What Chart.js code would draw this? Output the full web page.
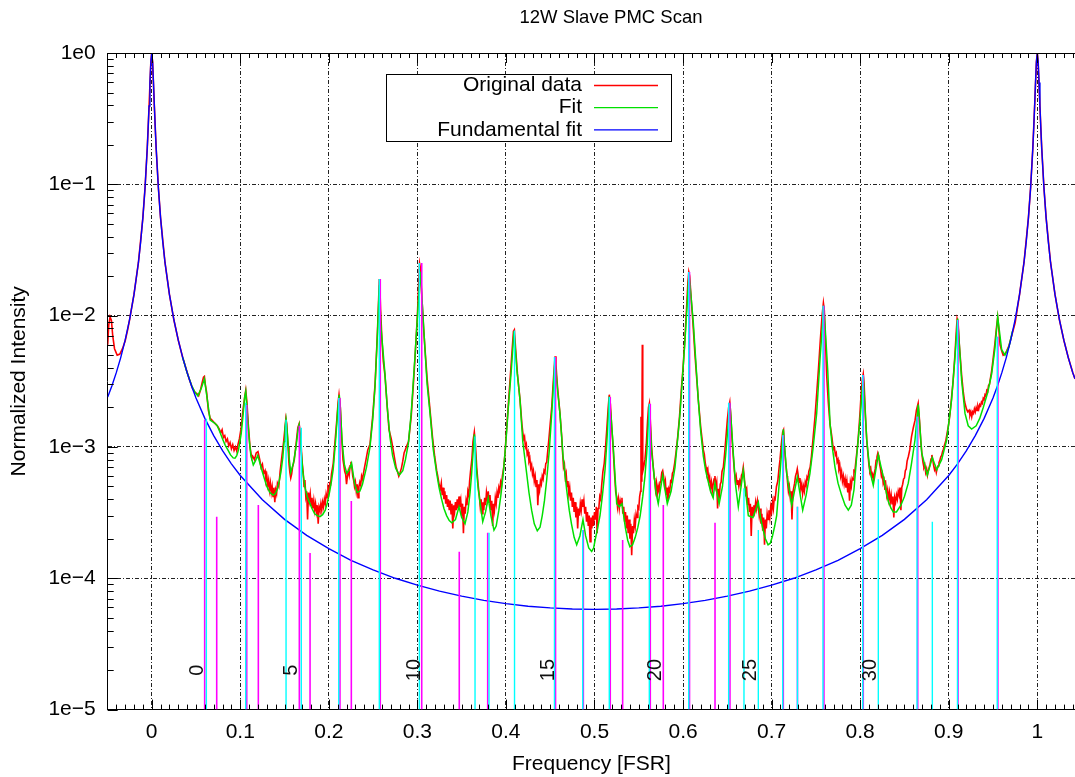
<!DOCTYPE html>
<html>
<head>
<meta charset="utf-8">
<title>12W Slave PMC Scan</title>
<script src="https://cdn.jsdelivr.net/npm/chart.js@4.4.1/dist/chart.umd.min.js"></script>
<style>
  html, body { margin: 0; padding: 0; background: #fff; }
  #wrap { width: 1075px; height: 777px; position: relative; }
</style>
</head>
<body>
<div id="wrap"><canvas id="pmcScan"></canvas></div>
<script>
// Axis ticks
const xTickValues = [0, 0.1, 0.2, 0.3, 0.4, 0.5, 0.6, 0.7, 0.8, 0.9, 1];
const xTickLabels = ['0', '0.1', '0.2', '0.3', '0.4', '0.5', '0.6', '0.7', '0.8', '0.9', '1'];
const yTickValues = [1e-5, 1e-4, 1e-3, 1e-2, 1e-1, 1];
const yTickLabels = ['1e\u22125', '1e\u22124', '1e\u22123', '1e\u22122', '1e\u22121', '1e0'];

// Measured transmission (frequency in FSR, normalized intensity)
const originalData = [
  [-0.0497,6.0e-3],[-0.0485,8.5e-3],[-0.047,9.8e-3],[-0.0455,9.2e-3],[-0.044,7.0e-3],[-0.042,5.6e-3],
  [-0.039,5.0e-3],[-0.036,5.1e-3],[-0.033,5.6e-3],[-0.030,6.4e-3],[-0.027,7.9e-3],[-0.025,9.3e-3],
  [-0.02,1.45e-2],[-0.015,2.54e-2],[-0.01,5.55e-2],[-0.0075,9.5e-2],[-0.005,0.19],[-0.003,0.39],
  [-0.001,0.85],[0,1.0],[0.001,0.85],[0.003,0.39],[0.005,0.19],[0.0075,9.5e-2],[0.01,5.55e-2],
  [0.015,2.54e-2],[0.02,1.45e-2],[0.025,9.3e-3],[0.03,6.5e-3],[0.035,4.8e-3],[0.040,3.7e-3],
  [0.043,3.2e-3],[0.046,2.8e-3],[0.049,2.6e-3],[0.051,2.55e-3],[0.053,2.45e-3],[0.055,2.7e-3],
  [0.057,3.1e-3],[0.0585,3.4e-3],[0.0595,3.45e-3],[0.0605,3.0e-3],
  [0.062,2.6e-3],[0.064,1.9e-3],[0.066,1.65e-3],[0.068,1.6e-3],[0.070,1.55e-3],[0.072,1.5e-3],
  [0.074,1.45e-3],[0.076,1.38e-3],[0.078,1.28e-3],[0.0795,1.35e-3],[0.081,1.18e-3],[0.0825,1.22e-3],
  [0.084,1.10e-3],[0.0855,1.15e-3],[0.087,1.02e-3],[0.0885,1.08e-3],[0.090,9.7e-4],[0.0915,1.04e-3],
  [0.093,9.4e-4],[0.0945,1.0e-3],[0.096,9.3e-4],[0.0975,1.05e-3],[0.099,1.15e-3],[0.101,1.4e-3],
  [0.103,1.9e-3],[0.105,2.4e-3],[0.1062,2.7e-3],[0.1075,2.2e-3],[0.109,1.5e-3],[0.111,1.0e-3],
  [0.113,8.2e-4],[0.114,8.5e-4],[0.116,8.0e-4],[0.118,9.0e-4],[0.120,9.2e-4],[0.122,8.0e-4],
  [0.1235,7.0e-4],[0.125,7.4e-4],[0.1265,6.3e-4],[0.128,6.6e-4],[0.129,5.6e-4],[0.130,6.0e-4],
  [0.131,5.1e-4],[0.132,5.6e-4],[0.133,4.7e-4],[0.134,5.3e-4],[0.135,4.5e-4],[0.136,5.0e-4],
  [0.137,4.2e-4],[0.138,4.9e-4],[0.139,3.8e-4],[0.140,4.7e-4],[0.141,4.4e-4],[0.142,5.3e-4],
  [0.1435,5.0e-4],[0.145,6.5e-4],[0.147,8.5e-4],[0.149,1.1e-3],[0.1505,1.4e-3],[0.1515,1.65e-3],
  [0.1525,1.5e-3],[0.154,1.0e-3],[0.155,7.5e-4],[0.156,6.4e-4],[0.157,5.8e-4],[0.158,6.2e-4],
  [0.159,7.0e-4],[0.161,8.0e-4],[0.163,1.05e-3],[0.165,1.4e-3],[0.1665,1.5e-3],[0.168,1.2e-3],
  [0.170,7.5e-4],[0.171,6.5e-4],[0.172,5.0e-4],[0.173,5.6e-4],[0.174,4.2e-4],[0.175,4.6e-4],
  [0.176,2.8e-4],[0.177,4.5e-4],[0.178,3.9e-4],[0.179,4.4e-4],[0.180,3.6e-4],[0.181,4.1e-4],
  [0.182,3.4e-4],[0.183,3.9e-4],[0.184,3.3e-4],[0.185,3.7e-4],[0.186,3.2e-4],[0.187,3.6e-4],
  [0.188,2.6e-4],[0.189,3.5e-4],[0.190,3.3e-4],[0.191,3.7e-4],[0.192,3.3e-4],[0.193,3.8e-4],
  [0.194,3.5e-4],[0.195,4.0e-4],[0.196,3.7e-4],[0.197,4.4e-4],[0.198,4.1e-4],[0.199,4.8e-4],
  [0.200,4.5e-4],[0.201,5.3e-4],[0.202,5.2e-4],[0.203,6.2e-4],[0.205,7.5e-4],[0.207,1.1e-3],
  [0.209,1.6e-3],[0.2105,2.2e-3],[0.2115,2.5e-3],[0.213,2.0e-3],[0.2145,1.2e-3],[0.216,8.0e-4],
  [0.218,6.5e-4],[0.219,6.2e-4],[0.220,5.2e-4],[0.221,6.0e-4],[0.222,6.6e-4],[0.223,6.1e-4],
  [0.224,7.2e-4],[0.225,7.7e-4],[0.226,7.0e-4],[0.227,6.0e-4],[0.228,5.6e-4],[0.229,5.0e-4],
  [0.230,5.4e-4],[0.231,4.6e-4],[0.232,5.2e-4],[0.233,4.1e-4],[0.234,5.0e-4],[0.235,5.4e-4],
  [0.236,5.1e-4],[0.237,6.0e-4],[0.238,5.7e-4],[0.240,6.8e-4],[0.242,8.0e-4],[0.244,9.5e-4],
  [0.2465,1.05e-3],[0.2495,1.7e-3],[0.2522,3.0e-3],[0.254,5.5e-3],[0.2555,9.5e-3],[0.2565,1.5e-2],
  [0.257,1.9e-2],[0.2577,1.6e-2],[0.2585,1.1e-2],[0.260,6.5e-3],[0.2615,4.5e-3],[0.2634,3.5e-3],
  [0.266,2.0e-3],[0.268,1.35e-3],[0.2705,1.15e-3],[0.273,9.2e-4],[0.2745,8.0e-4],[0.276,7.0e-4],
  [0.2775,6.5e-4],[0.279,6.0e-4],[0.2805,6.4e-4],[0.282,6.9e-4],[0.2835,7.8e-4],[0.285,9.0e-4],
  [0.2875,1.0e-3],[0.290,1.1e-3],[0.293,1.7e-3],[0.2955,3.0e-3],[0.2975,5.0e-3],[0.300,1.0e-2],
  [0.3015,1.8e-2],[0.3025,2.5e-2],[0.3035,2.3e-2],[0.305,1.4e-2],[0.307,8.0e-3],[0.3086,5.6e-3],
  [0.311,3.3e-3],[0.3143,1.9e-3],[0.317,1.2e-3],[0.3195,8.5e-4],[0.3218,6.6e-4],
  [0.323,6.0e-4],[0.3245,5.2e-4],[0.326,4.8e-4],[0.327,5.3e-4],[0.328,4.3e-4],[0.329,4.9e-4],
  [0.330,4.0e-4],[0.331,4.6e-4],[0.332,3.7e-4],[0.333,4.3e-4],[0.334,3.5e-4],[0.335,4.0e-4],
  [0.336,3.3e-4],[0.337,3.9e-4],[0.338,3.1e-4],[0.339,3.7e-4],[0.340,2.4e-4],[0.341,3.6e-4],
  [0.342,3.2e-4],[0.343,3.8e-4],[0.344,3.3e-4],[0.345,4.0e-4],[0.346,3.4e-4],[0.347,4.2e-4],
  [0.348,3.5e-4],[0.349,3.9e-4],[0.350,3.0e-4],[0.351,3.7e-4],[0.352,2.2e-4],[0.353,3.5e-4],
  [0.354,3.1e-4],[0.355,3.9e-4],[0.356,3.6e-4],[0.357,4.6e-4],[0.358,4.3e-4],[0.359,5.5e-4],
  [0.360,6.5e-4],[0.3615,8.0e-4],[0.3628,1.1e-3],[0.3643,1.3e-3],[0.3655,1.05e-3],[0.367,7.0e-4],
  [0.3688,5.0e-4],[0.370,4.2e-4],[0.371,3.5e-4],[0.372,4.0e-4],[0.373,3.1e-4],[0.374,3.8e-4],
  [0.375,3.3e-4],[0.376,4.1e-4],[0.377,3.6e-4],[0.378,4.5e-4],[0.379,4.0e-4],[0.380,4.6e-4],
  [0.381,3.8e-4],[0.382,4.3e-4],[0.383,3.3e-4],[0.384,3.9e-4],[0.385,2.5e-4],[0.386,3.7e-4],
  [0.387,3.3e-4],[0.388,4.1e-4],[0.389,3.7e-4],[0.390,4.5e-4],[0.391,4.1e-4],[0.392,4.9e-4],
  [0.393,4.6e-4],[0.394,5.4e-4],[0.395,5.1e-4],[0.396,6.0e-4],[0.3975,7.0e-4],[0.399,9.0e-4],
  [0.4005,1.3e-3],[0.4027,2.1e-3],[0.405,3.5e-3],[0.407,5.5e-3],[0.4085,7.6e-3],[0.4095,7.8e-3],
  [0.411,5.5e-3],[0.413,3.6e-3],[0.4159,2.3e-3],[0.418,1.5e-3],
  [0.419,1.3e-3],[0.420,1.15e-3],[0.421,1.2e-3],[0.422,1.0e-3],[0.423,1.05e-3],[0.424,8.8e-4],
  [0.425,9.2e-4],[0.426,7.8e-4],[0.427,8.2e-4],[0.428,6.9e-4],[0.429,7.3e-4],[0.430,6.2e-4],
  [0.431,6.6e-4],[0.432,5.5e-4],[0.433,6.0e-4],[0.434,5.0e-4],[0.435,5.6e-4],[0.436,3.6e-4],
  [0.437,5.2e-4],[0.438,4.7e-4],[0.439,5.5e-4],[0.440,5.2e-4],[0.441,6.0e-4],[0.442,5.7e-4],
  [0.443,6.6e-4],[0.444,6.4e-4],[0.445,7.5e-4],[0.446,7.6e-4],[0.447,9.0e-4],[0.4485,1.15e-3],
  [0.450,1.5e-3],[0.4517,2.0e-3],[0.453,2.8e-3],[0.4545,4.0e-3],[0.4555,4.9e-3],[0.4565,4.2e-3],
  [0.458,3.0e-3],[0.461,1.8e-3],[0.463,1.2e-3],
  [0.464,9.0e-4],[0.465,7.0e-4],[0.466,7.4e-4],[0.467,5.9e-4],[0.468,6.3e-4],[0.469,5.0e-4],
  [0.470,5.5e-4],[0.471,4.4e-4],[0.472,4.9e-4],[0.473,3.9e-4],[0.474,4.5e-4],[0.475,3.5e-4],
  [0.476,4.1e-4],[0.477,3.2e-4],[0.478,3.8e-4],[0.479,2.9e-4],[0.480,3.5e-4],[0.481,2.4e-4],
  [0.482,3.4e-4],[0.483,3.0e-4],[0.484,3.7e-4],[0.485,3.3e-4],[0.486,4.0e-4],[0.487,3.5e-4],
  [0.488,3.9e-4],[0.489,3.1e-4],[0.490,3.5e-4],[0.491,2.7e-4],[0.492,3.2e-4],[0.493,2.5e-4],
  [0.494,3.0e-4],[0.495,1.9e-4],[0.496,2.9e-4],[0.497,2.4e-4],[0.498,3.0e-4],[0.499,2.5e-4],
  [0.500,3.2e-4],[0.501,2.8e-4],[0.502,3.5e-4],[0.503,2.2e-4],[0.504,3.4e-4],[0.505,3.5e-4],
  [0.506,4.2e-4],[0.507,4.0e-4],[0.508,5.0e-4],[0.5095,6.5e-4],[0.511,7.5e-4],[0.5125,1.0e-3],
  [0.514,1.4e-3],[0.5155,2.0e-3],[0.5167,2.5e-3],[0.518,2.1e-3],[0.5195,1.4e-3],[0.521,1.0e-3],
  [0.5225,6.5e-4],[0.524,4.5e-4],
  [0.525,4.2e-4],[0.526,3.5e-4],[0.527,4.0e-4],[0.528,3.4e-4],[0.529,3.9e-4],[0.530,3.6e-4],
  [0.531,4.1e-4],[0.532,3.1e-4],[0.533,3.5e-4],[0.534,2.7e-4],[0.535,3.2e-4],[0.536,2.4e-4],
  [0.537,3.0e-4],[0.538,2.2e-4],[0.539,2.8e-4],[0.540,2.0e-4],[0.541,2.6e-4],[0.542,1.5e-4],
  [0.543,2.5e-4],[0.544,2.2e-4],[0.545,2.8e-4],[0.546,2.5e-4],[0.547,3.1e-4],[0.548,2.9e-4],
  [0.549,3.5e-4],[0.550,3.4e-4],[0.551,4.2e-4],[0.552,4.6e-4],[0.5525,1.7e-3],[0.553,5.5e-4],
  [0.5535,1.2e-3],[0.554,6.0e-3],[0.5545,6.5e-4],[0.5555,7.0e-4],[0.557,8.0e-4],[0.5585,1.05e-3],
  [0.560,1.6e-3],[0.561,2.0e-3],[0.562,2.15e-3],[0.563,1.6e-3],[0.5645,1.0e-3],[0.566,7.5e-4],
  [0.5675,5.8e-4],[0.568,5.6e-4],[0.569,4.7e-4],[0.570,5.3e-4],[0.571,4.4e-4],[0.572,5.0e-4],
  [0.573,4.6e-4],[0.574,5.4e-4],[0.575,5.6e-4],[0.576,6.4e-4],[0.577,6.6e-4],[0.578,6.0e-4],
  [0.579,5.1e-4],[0.580,5.5e-4],[0.581,4.3e-4],[0.582,4.9e-4],[0.583,3.9e-4],[0.584,4.8e-4],
  [0.585,4.6e-4],[0.586,5.5e-4],[0.587,5.4e-4],[0.588,6.3e-4],[0.589,6.5e-4],[0.5905,7.5e-4],
  [0.592,9.0e-4],[0.594,1.2e-3],[0.596,1.7e-3],[0.598,2.7e-3],[0.600,4.0e-3],[0.602,6.5e-3],
  [0.604,1.15e-2],[0.6055,1.8e-2],[0.6065,2.15e-2],[0.6075,2.0e-2],[0.609,1.4e-2],[0.611,9.2e-3],
  [0.6135,5.0e-3],[0.6172,2.3e-3],[0.620,1.4e-3],[0.6229,9.5e-4],
  [0.624,8.8e-4],[0.625,7.6e-4],[0.626,7.0e-4],[0.627,6.3e-4],[0.628,6.7e-4],[0.629,5.5e-4],
  [0.630,5.9e-4],[0.631,4.9e-4],[0.632,5.4e-4],[0.633,4.6e-4],[0.634,5.2e-4],[0.635,5.7e-4],
  [0.636,6.0e-4],[0.637,5.0e-4],[0.638,5.4e-4],[0.639,3.4e-4],[0.640,4.8e-4],[0.641,4.3e-4],
  [0.642,5.2e-4],[0.643,5.4e-4],[0.644,6.5e-4],[0.6455,7.0e-4],[0.647,9.0e-4],[0.6485,1.2e-3],
  [0.650,1.6e-3],[0.6515,2.0e-3],[0.6528,2.2e-3],[0.654,1.7e-3],[0.6555,1.1e-3],[0.657,8.0e-4],
  [0.658,6.5e-4],[0.659,5.6e-4],[0.660,6.0e-4],[0.661,5.2e-4],[0.662,5.6e-4],[0.663,5.0e-4],
  [0.664,5.5e-4],[0.665,5.2e-4],[0.666,6.1e-4],[0.667,6.3e-4],[0.668,7.0e-4],[0.669,6.0e-4],
  [0.670,5.0e-4],[0.671,4.2e-4],[0.672,4.6e-4],[0.673,3.6e-4],[0.674,4.1e-4],[0.675,3.2e-4],
  [0.676,3.7e-4],[0.677,2.1e-4],[0.678,3.5e-4],[0.679,3.0e-4],[0.680,3.6e-4],[0.681,3.3e-4],
  [0.682,3.8e-4],[0.683,3.4e-4],[0.684,3.9e-4],[0.685,3.5e-4],[0.686,3.0e-4],[0.687,3.4e-4],
  [0.688,2.6e-4],[0.689,3.1e-4],[0.690,2.3e-4],[0.691,2.9e-4],[0.692,1.8e-4],[0.693,2.8e-4],
  [0.694,2.4e-4],[0.695,3.1e-4],[0.696,2.8e-4],[0.697,3.3e-4],[0.698,2.9e-4],[0.699,3.5e-4],
  [0.700,3.2e-4],[0.701,3.8e-4],[0.702,3.4e-4],[0.703,4.1e-4],[0.704,4.0e-4],[0.7055,5.0e-4],
  [0.707,5.5e-4],[0.7085,7.0e-4],[0.7095,8.0e-4],[0.711,1.05e-3],[0.7125,1.3e-3],[0.7135,1.35e-3],
  [0.7145,1.0e-3],[0.716,7.5e-4],[0.7175,6.0e-4],
  [0.718,5.4e-4],[0.719,4.6e-4],[0.720,5.0e-4],[0.721,4.2e-4],[0.722,4.6e-4],[0.723,2.8e-4],
  [0.724,4.5e-4],[0.725,4.9e-4],[0.726,5.3e-4],[0.727,6.0e-4],[0.728,6.3e-4],[0.729,6.8e-4],
  [0.730,6.1e-4],[0.731,5.4e-4],[0.732,5.8e-4],[0.733,4.8e-4],[0.734,5.2e-4],[0.735,4.4e-4],
  [0.736,5.0e-4],[0.737,4.6e-4],[0.738,5.4e-4],[0.739,5.1e-4],[0.740,5.9e-4],[0.741,5.7e-4],
  [0.742,6.5e-4],[0.7435,7.0e-4],[0.745,8.5e-4],[0.747,1.2e-3],[0.749,1.7e-3],[0.751,2.6e-3],
  [0.753,4.0e-3],[0.755,6.5e-3],[0.757,1.0e-2],[0.7585,1.25e-2],[0.7595,1.1e-2],[0.761,6.0e-3],
  [0.7622,3.5e-3],[0.764,2.2e-3],[0.7659,1.5e-3],[0.768,1.2e-3],
  [0.769,1.05e-3],[0.770,9.6e-4],[0.771,9.8e-4],[0.772,8.7e-4],[0.773,9.0e-4],[0.774,7.7e-4],
  [0.775,8.0e-4],[0.776,6.8e-4],[0.777,7.2e-4],[0.778,6.0e-4],[0.779,6.5e-4],[0.780,5.5e-4],
  [0.781,6.0e-4],[0.782,5.2e-4],[0.783,5.7e-4],[0.784,4.9e-4],[0.785,5.5e-4],[0.786,4.5e-4],
  [0.787,5.3e-4],[0.788,3.9e-4],[0.789,5.4e-4],[0.790,5.0e-4],[0.791,5.8e-4],[0.792,5.6e-4],
  [0.793,6.6e-4],[0.794,6.5e-4],[0.795,7.6e-4],[0.796,8.8e-4],[0.7975,1.1e-3],[0.799,1.5e-3],
  [0.800,1.9e-3],[0.801,2.5e-3],[0.8025,3.3e-3],[0.8035,3.6e-3],[0.8045,3.0e-3],[0.806,1.7e-3],
  [0.8074,1.15e-3],[0.809,8.5e-4],
  [0.810,7.2e-4],[0.811,6.5e-4],[0.812,6.8e-4],[0.813,5.9e-4],[0.814,6.2e-4],[0.815,5.6e-4],
  [0.816,6.3e-4],[0.817,6.8e-4],[0.818,7.9e-4],[0.819,8.4e-4],[0.820,9.0e-4],[0.821,8.6e-4],
  [0.822,7.4e-4],[0.823,6.8e-4],[0.824,6.0e-4],[0.825,6.3e-4],[0.826,5.3e-4],[0.827,5.6e-4],
  [0.828,4.7e-4],[0.829,5.1e-4],[0.830,4.3e-4],[0.831,4.7e-4],[0.832,4.0e-4],[0.833,4.5e-4],
  [0.834,3.8e-4],[0.835,4.3e-4],[0.836,3.7e-4],[0.837,4.2e-4],[0.838,2.9e-4],[0.839,4.1e-4],
  [0.840,3.8e-4],[0.841,4.3e-4],[0.842,4.0e-4],[0.843,4.6e-4],[0.844,4.3e-4],[0.845,4.9e-4],
  [0.846,3.3e-4],[0.847,4.9e-4],[0.848,5.2e-4],[0.849,5.7e-4],[0.850,5.8e-4],[0.851,6.6e-4],
  [0.852,6.8e-4],[0.853,7.8e-4],[0.8545,8.5e-4],[0.856,9.5e-4],[0.858,1.2e-3],[0.860,1.4e-3],
  [0.862,1.6e-3],[0.8635,1.9e-3],[0.8655,2.15e-3],[0.867,1.6e-3],[0.8685,1.1e-3],[0.870,8.5e-4],
  [0.871,7.6e-4],[0.872,7.0e-4],[0.873,7.3e-4],[0.874,6.4e-4],[0.875,6.8e-4],[0.876,6.1e-4],
  [0.877,6.6e-4],[0.878,7.0e-4],[0.879,7.4e-4],[0.880,8.1e-4],[0.881,8.7e-4],[0.882,8.0e-4],
  [0.883,7.2e-4],[0.884,6.7e-4],[0.885,7.0e-4],[0.886,6.4e-4],[0.887,6.9e-4],[0.888,7.2e-4],
  [0.889,7.6e-4],[0.890,7.9e-4],[0.891,8.4e-4],[0.892,8.6e-4],[0.893,9.2e-4],[0.894,9.6e-4],
  [0.895,1.02e-3],[0.8965,1.1e-3],[0.898,1.25e-3],[0.900,1.5e-3],[0.9015,1.8e-3],[0.903,2.3e-3],
  [0.905,3.2e-3],[0.907,5.0e-3],[0.9085,7.5e-3],[0.9095,9.5e-3],[0.9105,9.0e-3],[0.912,6.0e-3],
  [0.9146,3.5e-3],[0.9165,2.6e-3],
  [0.918,2.2e-3],[0.920,1.95e-3],[0.9215,1.85e-3],[0.923,1.9e-3],[0.924,1.75e-3],[0.925,1.85e-3],
  [0.926,1.7e-3],[0.927,1.85e-3],[0.928,1.8e-3],[0.929,1.95e-3],[0.930,1.85e-3],[0.931,2.0e-3],
  [0.932,1.9e-3],[0.933,2.05e-3],[0.934,1.95e-3],[0.935,2.1e-3],[0.936,2.05e-3],[0.937,2.2e-3],
  [0.938,2.15e-3],[0.939,2.35e-3],[0.940,2.3e-3],[0.941,2.5e-3],[0.942,2.45e-3],[0.943,2.7e-3],
  [0.944,2.65e-3],[0.945,2.95e-3],[0.946,3.0e-3],[0.947,3.3e-3],[0.9485,3.8e-3],[0.950,4.6e-3],
  [0.952,6.0e-3],[0.954,8.2e-3],[0.9553,9.7e-3],[0.9565,8.0e-3],[0.958,6.0e-3],[0.9598,5.4e-3],
  [0.9615,5.0e-3],[0.9635,5.1e-3],[0.9655,5.4e-3],[0.968,5.9e-3],[0.970,6.6e-3],[0.975,8.8e-3],
  [0.980,1.45e-2],[0.985,2.54e-2],[0.99,5.55e-2],[0.9925,9.5e-2],[0.995,0.19],[0.997,0.39],
  [0.999,0.85],[1.0,1.0],[1.001,0.85],[1.003,0.39],[1.005,0.19],[1.0075,9.5e-2],[1.01,5.55e-2],
  [1.015,2.54e-2],[1.02,1.45e-2],[1.025,9.3e-3],[1.03,6.5e-3],[1.035,4.8e-3],[1.04,3.7e-3],
  [1.0426,3.3e-3]
];

// Multi-mode fit
const fitData = [
  [0.035,4.8e-3],[0.040,3.68e-3],[0.045,2.95e-3],[0.049,2.6e-3],[0.052,2.45e-3],[0.056,2.8e-3],
  [0.0595,3.3e-3],[0.062,2.5e-3],[0.066,1.6e-3],[0.071,1.52e-3],[0.074,1.45e-3],[0.077,1.3e-3],
  [0.080,1.15e-3],[0.083,1.03e-3],[0.086,9.5e-4],[0.089,8.7e-4],[0.092,8.25e-4],[0.094,8.2e-4],
  [0.096,8.6e-4],[0.098,9.5e-4],[0.101,1.25e-3],[0.103,1.7e-3],[0.105,2.4e-3],[0.1062,2.65e-3],
  [0.1075,2.0e-3],[0.110,1.15e-3],[0.112,8.6e-4],[0.1147,7.3e-4],[0.117,7.8e-4],[0.1197,8.6e-4],
  [0.122,7.6e-4],[0.124,6.8e-4],[0.127,5.8e-4],[0.130,5.0e-4],[0.1335,4.5e-4],[0.137,4.3e-4],
  [0.1395,4.4e-4],[0.142,4.8e-4],[0.144,5.5e-4],[0.146,6.5e-4],[0.148,8.3e-4],[0.1495,1.1e-3],
  [0.1505,1.4e-3],[0.1517,1.62e-3],[0.153,1.3e-3],[0.155,8.5e-4],[0.157,6.4e-4],[0.160,7.5e-4],
  [0.163,1.0e-3],[0.1655,1.4e-3],[0.1665,1.48e-3],[0.168,1.1e-3],[0.1705,6.6e-4],[0.1731,4.9e-4],
  [0.1755,4.2e-4],[0.178,3.8e-4],[0.181,3.4e-4],[0.184,3.1e-4],[0.187,3.0e-4],[0.190,2.95e-4],
  [0.193,3.05e-4],[0.196,3.3e-4],[0.1985,3.8e-4],[0.201,4.6e-4],[0.203,5.5e-4],[0.205,6.8e-4],
  [0.208,1.2e-3],[0.210,1.9e-3],[0.2118,2.5e-3],[0.213,2.0e-3],[0.215,1.1e-3],[0.2175,7.4e-4],
  [0.2202,6.3e-4],[0.223,6.7e-4],[0.2257,7.5e-4],[0.229,5.3e-4],[0.232,4.5e-4],[0.235,4.6e-4],
  [0.238,5.2e-4],[0.2425,7.0e-4],[0.2465,1.0e-3],[0.2495,1.6e-3],[0.2522,2.9e-3],[0.255,7.5e-3],
  [0.257,1.7e-2],[0.259,8.0e-3],[0.2634,3.6e-3],[0.266,2.0e-3],[0.2691,1.18e-3],[0.272,8.6e-4],
  [0.2755,6.9e-4],[0.2796,6.1e-4],[0.2835,6.6e-4],[0.2865,8.0e-4],[0.2898,1.06e-3],[0.293,1.8e-3],
  [0.2973,4.9e-3],[0.3005,1.1e-2],[0.3033,2.16e-2],[0.306,1.1e-2],[0.3086,5.5e-3],[0.311,3.0e-3],
  [0.3143,1.8e-3],[0.318,9.5e-4],[0.3218,6.3e-4],[0.3245,4.9e-4],[0.327,4.1e-4],[0.330,3.4e-4],
  [0.333,3.0e-4],[0.336,2.75e-4],[0.3388,2.65e-4],[0.343,2.8e-4],[0.347,3.5e-4],[0.350,2.9e-4],
  [0.3538,2.6e-4],[0.357,3.2e-4],[0.3595,4.5e-4],[0.3613,6.3e-4],[0.3643,1.25e-3],[0.3665,7.0e-4],
  [0.3688,4.7e-4],[0.3738,2.7e-4],[0.377,3.2e-4],[0.380,4.1e-4],[0.383,3.0e-4],[0.3865,2.33e-4],
  [0.389,2.5e-4],[0.392,3.3e-4],[0.3945,4.4e-4],[0.397,6.3e-4],[0.400,1.1e-3],[0.4027,2.0e-3],
  [0.406,3.8e-3],[0.4091,7.6e-3],[0.4125,3.8e-3],[0.4159,2.28e-3],[0.419,1.1e-3],[0.4234,6.3e-4],
  [0.426,4.5e-4],[0.429,3.3e-4],[0.432,2.6e-4],[0.4354,2.3e-4],[0.4385,2.45e-4],[0.441,3.0e-4],
  [0.4435,3.9e-4],[0.446,5.6e-4],[0.449,9.5e-4],[0.4517,1.8e-3],[0.4554,4.6e-3],[0.4585,2.6e-3],
  [0.461,1.8e-3],[0.4645,8.5e-4],[0.4686,4.7e-4],[0.4715,3.3e-4],[0.474,2.6e-4],[0.477,2.05e-4],
  [0.4799,1.8e-4],[0.4835,2.1e-4],[0.487,2.8e-4],[0.490,2.1e-4],[0.4935,1.7e-4],[0.4968,1.6e-4],
  [0.499,1.7e-4],[0.501,2.0e-4],[0.5035,2.4e-4],[0.5062,3.0e-4],[0.509,4.3e-4],[0.5119,6.7e-4],
  [0.514,1.1e-3],[0.5167,2.42e-3],[0.519,1.6e-3],[0.5212,1.0e-3],[0.5251,3.7e-4],[0.528,3.5e-4],
  [0.531,3.7e-4],[0.535,2.4e-4],[0.5375,1.95e-4],[0.540,1.74e-4],[0.543,1.8e-4],[0.546,2.05e-4],
  [0.549,2.45e-4],[0.5516,3.0e-4],[0.5545,4.2e-4],[0.557,6.0e-4],[0.559,9.0e-4],[0.5619,2.1e-3],
  [0.5646,9.0e-4],[0.5694,4.5e-4],[0.572,3.7e-4],[0.577,6.1e-4],[0.5822,3.7e-4],[0.5865,4.6e-4],
  [0.5909,7.0e-4],[0.5966,1.8e-3],[0.6022,6.5e-3],[0.6067,2.1e-2],[0.6116,8.8e-3],[0.6172,2.28e-3],
  [0.620,1.3e-3],[0.6229,8.5e-4],[0.6255,6.6e-4],[0.628,5.6e-4],[0.631,4.6e-4],[0.634,4.1e-4],
  [0.636,5.3e-4],[0.6408,3.7e-4],[0.6445,5.0e-4],[0.648,8.5e-4],[0.653,2.15e-3],[0.6567,9.0e-4],
  [0.6595,5.0e-4],[0.6624,3.5e-4],[0.668,6.6e-4],[0.6737,3.0e-4],[0.679,2.9e-4],[0.685,3.8e-4],
  [0.6875,2.9e-4],[0.690,2.4e-4],[0.693,2.0e-4],[0.696,1.8e-4],[0.6985,1.85e-4],[0.701,2.1e-4],
  [0.7035,2.5e-4],[0.7057,3.0e-4],[0.7095,6.3e-4],[0.7132,1.36e-3],[0.717,6.3e-4],[0.7227,3.6e-4],
  [0.729,5.9e-4],[0.7351,3.3e-4],[0.739,4.3e-4],[0.7433,6.3e-4],[0.747,1.0e-3],[0.7509,1.8e-3],
  [0.7546,4.6e-3],[0.759,1.19e-2],[0.7634,3.8e-3],[0.766,1.5e-3],[0.7685,1.0e-3],[0.7716,7.0e-4],
  [0.775,5.3e-4],[0.779,4.3e-4],[0.783,3.6e-4],[0.7866,3.3e-4],[0.790,3.6e-4],[0.793,4.7e-4],
  [0.7961,8.5e-4],[0.7998,1.6e-3],[0.8035,3.5e-3],[0.8074,1.13e-3],[0.811,6.6e-4],[0.8148,5.1e-4],
  [0.8205,8.7e-4],[0.827,5.6e-4],[0.8295,4.5e-4],[0.832,3.8e-4],[0.835,3.4e-4],[0.8374,3.2e-4],
  [0.841,3.2e-4],[0.846,3.6e-4],[0.850,4.2e-4],[0.8543,5.3e-4],[0.858,7.5e-4],[0.8619,1.13e-3],
  [0.8656,2.1e-3],[0.8695,9.0e-4],[0.8758,6.1e-4],[0.8815,8.3e-4],[0.8864,6.7e-4],[0.892,8.0e-4],
  [0.8977,1.13e-3],[0.9033,2.3e-3],[0.907,4.8e-3],[0.9101,9.5e-3],[0.9146,3.2e-3],[0.9184,1.8e-3],
  [0.922,1.45e-3],[0.9259,1.37e-3],[0.931,1.45e-3],[0.935,1.65e-3],[0.939,2.0e-3],[0.944,2.6e-3],
  [0.9485,3.6e-3],[0.952,5.5e-3],[0.9553,9.8e-3],[0.9598,5.5e-3],[0.9635,5.0e-3],[0.968,5.8e-3],
  [0.972,7.6e-3]
];

// Fundamental mode fit
const fundamentalData = [
  [-0.0497,2.4e-3],[-0.045,2.91e-3],[-0.04,3.68e-3],[-0.035,4.79e-3],[-0.03,6.5e-3],[-0.025,9.34e-3],
  [-0.02,1.45e-2],[-0.015,2.54e-2],[-0.0125,3.63e-2],[-0.01,5.55e-2],[-0.0075,9.46e-2],[-0.005,0.19],
  [-0.004,0.269],[-0.003,0.395],[-0.002,0.595],[-0.001,0.855],[0,1.0],[0.001,0.855],[0.002,0.595],
  [0.003,0.395],[0.004,0.269],[0.005,0.19],[0.0075,9.46e-2],[0.01,5.55e-2],[0.0125,3.63e-2],
  [0.015,2.54e-2],[0.02,1.45e-2],[0.025,9.34e-3],[0.03,6.5e-3],[0.035,4.79e-3],[0.04,3.68e-3],
  [0.045,2.91e-3],[0.05,2.36e-3],[0.06,1.65e-3],[0.07,1.22e-3],[0.08,9.37e-4],[0.09,7.44e-4],
  [0.1,6.07e-4],[0.125,3.96e-4],[0.15,2.81e-4],[0.175,2.12e-4],[0.2,1.68e-4],[0.225,1.37e-4],
  [0.25,1.16e-4],[0.275,1.0e-4],[0.3,8.86e-5],[0.325,7.98e-5],[0.35,7.31e-5],[0.375,6.79e-5],
  [0.4,6.41e-5],[0.425,6.13e-5],[0.45,5.95e-5],[0.475,5.84e-5],[0.5,5.8e-5],[0.525,5.84e-5],
  [0.55,5.95e-5],[0.575,6.13e-5],[0.6,6.41e-5],[0.625,6.79e-5],[0.65,7.31e-5],[0.675,7.98e-5],
  [0.7,8.86e-5],[0.725,1.0e-4],[0.75,1.16e-4],[0.775,1.37e-4],[0.8,1.68e-4],[0.825,2.12e-4],
  [0.85,2.81e-4],[0.875,3.96e-4],[0.9,6.07e-4],[0.91,7.44e-4],[0.92,9.37e-4],[0.93,1.22e-3],
  [0.94,1.65e-3],[0.95,2.36e-3],[0.955,2.91e-3],[0.96,3.68e-3],[0.965,4.79e-3],[0.97,6.5e-3],
  [0.975,9.34e-3],[0.98,1.45e-2],[0.985,2.54e-2],[0.9875,3.63e-2],[0.99,5.55e-2],[0.9925,9.46e-2],
  [0.995,0.19],[0.996,0.269],[0.997,0.395],[0.998,0.595],[0.999,0.855],[1.0,1.0],[1.001,0.855],
  [1.002,0.595],[1.003,0.395],[1.004,0.269],[1.005,0.19],[1.0075,9.46e-2],[1.01,5.55e-2],
  [1.0125,3.63e-2],[1.015,2.54e-2],[1.02,1.45e-2],[1.025,9.34e-3],[1.03,6.5e-3],[1.035,4.79e-3],
  [1.04,3.68e-3],[1.0426,3.3e-3]
];

// Higher order mode positions and heights
const magentaX = [0.0598,0.0734,0.1073,0.1204,0.1667,0.1788,0.2126,0.2254,0.2581,0.3049,0.3473,0.3794,
  0.4560,0.4874,0.5178,0.5318,0.5630,0.5777,0.6073,0.6361,0.6530,0.7132,0.7292,0.7591,0.8035,0.8650,
  0.9105,0.9555];
const magentaTop = [1.61e-3,2.94e-4,2.09e-3,3.61e-4,1.45e-3,1.56e-4,2.36e-3,3.88e-4,1.90e-2,2.52e-2,1.59e-4,
  2.22e-4,4.85e-3,2.33e-4,2.40e-3,1.96e-4,2.13e-3,3.61e-4,2.15e-2,2.65e-4,2.17e-3,1.23e-3,3.51e-4,1.19e-2,
  3.53e-3,1.70e-3,9.27e-3,6.92e-3];
const cyanX = [0.0617,0.1061,0.1517,0.1689,0.2112,0.2570,0.3022,0.3651,0.3809,0.4097,0.4548,0.4867,0.5167,
  0.5619,0.6064,0.6515,0.6688,0.6850,0.7125,0.7292,0.7580,0.8029,0.8205,0.8642,0.8815,0.9099,0.9548];
const cyanTop = [1.64e-3,2.17e-3,1.61e-3,1.40e-3,2.36e-3,1.90e-2,2.52e-2,1.20e-3,2.22e-4,7.69e-3,4.85e-3,
  2.33e-4,2.40e-3,2.13e-3,2.15e-2,2.17e-3,4.85e-4,2.33e-4,1.23e-3,3.51e-4,1.19e-2,3.53e-3,5.68e-4,1.70e-3,
  2.70e-4,9.27e-3,6.92e-3];

// Mode numbers written next to every fifth mode
const modeLabelText = ['0', '5', '10', '15', '20', '25', '30'];
const modeLabelX = [0.0598, 0.1667, 0.3049, 0.4560, 0.5777, 0.6850, 0.8205];

const FONT = '"Liberation Sans", Arial, sans-serif';
Chart.defaults.font.family = FONT;
Chart.defaults.color = '#000';

const asPoints = arr => arr.map(([x, y]) => ({x, y}));

// vertical sticks from the bottom of the axis, separated by gaps
function sticks(xs, tops) {
  const pts = [];
  xs.forEach((x, i) => {
    pts.push({x, y: yTickValues[0]}, {x, y: tops[i]}, {x, y: null});
  });
  return pts;
}

// inward tick marks on bottom, top and left, plus the top frame line
const frameTicks = {
  id: 'frameTicks',
  afterDatasetsDraw(chart) {
    const {ctx, chartArea: a, scales: {x, y}} = chart;
    ctx.save();
    ctx.strokeStyle = '#000';
    ctx.lineWidth = 1;
    ctx.beginPath();
    ctx.moveTo(a.left, a.top + 0.5);
    ctx.lineTo(a.right, a.top + 0.5);
    for (let i = Math.ceil(x.min * 100); i <= Math.floor(x.max * 100); i++) {
      const px = Math.round(x.getPixelForValue(i / 100)) + 0.5;
      const len = i % 10 === 0 ? 10 : 5;
      ctx.moveTo(px, a.bottom);
      ctx.lineTo(px, a.bottom - len);
      ctx.moveTo(px, a.top);
      ctx.lineTo(px, a.top + len);
    }
    for (let e = -5; e <= 0; e++) {
      for (let m = 1; m <= 9; m++) {
        const v = m * Math.pow(10, e);
        if (v > y.max * 1.0001) continue;
        const py = Math.round(y.getPixelForValue(v)) + 0.5;
        ctx.moveTo(a.left, py);
        ctx.lineTo(a.left + (m === 1 ? 10 : 6), py);
      }
    }
    ctx.stroke();
    ctx.restore();
  }
};

const modeNumbers = {
  id: 'modeNumbers',
  afterDatasetsDraw(chart, args, opts) {
    const {ctx, scales: {x, y}} = chart;
    const py = y.getPixelForValue(opts.level);
    ctx.save();
    ctx.font = '20px ' + FONT;
    ctx.fillStyle = '#111';
    ctx.textAlign = 'center';
    ctx.textBaseline = 'alphabetic';
    modeLabelText.forEach((t, i) => {
      const px = x.getPixelForValue(modeLabelX[i]) - 2;
      ctx.save();
      ctx.translate(px, py);
      ctx.rotate(-Math.PI / 2);
      ctx.fillText(t, 0, 0);
      ctx.restore();
    });
    ctx.restore();
  }
};

// gnuplot style key: text right aligned, sample line on the right
const keyBox = {
  id: 'keyBox',
  afterDatasetsDraw(chart) {
    const {ctx, chartArea: a} = chart;
    const left = Math.round(a.left + 278), top = Math.round(a.top + 21);
    const w = 285, h = 67;
    ctx.save();
    ctx.fillStyle = '#fff';
    ctx.fillRect(left, top, w, h);
    ctx.strokeStyle = '#000';
    ctx.lineWidth = 1;
    ctx.strokeRect(left + 0.5, top + 0.5, w, h);
    ctx.font = '21px ' + FONT;
    ctx.textAlign = 'right';
    ctx.textBaseline = 'middle';
    chart.data.datasets.slice(0, 3).forEach((ds, i) => {
      const cy = top + 11.5 + i * 22.2;
      ctx.fillStyle = '#000';
      ctx.fillText(ds.label, left + 196, cy);
      ctx.strokeStyle = ds.borderColor;
      ctx.lineWidth = 1.3;
      ctx.beginPath();
      ctx.moveTo(left + 208, cy);
      ctx.lineTo(left + 272, cy);
      ctx.stroke();
    });
    ctx.restore();
  }
};

const plotTitle = {
  id: 'plotTitle',
  afterDraw(chart, args, opts) {
    const {ctx} = chart;
    ctx.save();
    ctx.font = '18.5px ' + FONT;
    ctx.fillStyle = '#000';
    ctx.textAlign = 'center';
    ctx.textBaseline = 'middle';
    ctx.fillText(opts.text, 611, 18);
    ctx.restore();
  }
};

const lineStyle = {pointRadius: 0, pointHoverRadius: 0, tension: 0, fill: false};

new Chart(document.getElementById('pmcScan').getContext('2d'), {
  type: 'line',
  data: {
    datasets: [
      {label: 'Original data', data: asPoints(originalData), borderColor: '#ff0000', borderWidth: 1.6, order: 5, ...lineStyle},
      {label: 'Fit', data: asPoints(fitData), borderColor: '#00e000', borderWidth: 1.5, order: 4, ...lineStyle},
      {label: 'Fundamental fit', data: asPoints(fundamentalData), borderColor: '#0000ff', borderWidth: 1.4, order: 3, ...lineStyle},
      {label: 'HOM a', data: sticks(magentaX, magentaTop), borderColor: '#ff00ff', borderWidth: 1.6, order: 2, spanGaps: false, ...lineStyle},
      {label: 'HOM b', data: sticks(cyanX, cyanTop), borderColor: '#00ffff', borderWidth: 1.4, order: 1, spanGaps: false, ...lineStyle}
    ]
  },
  options: {
    responsive: true,
    maintainAspectRatio: false,
    animation: false,
    events: [],
    layout: {padding: {top: 53, left: 0, right: 0, bottom: 0}},
    plugins: {
      legend: {display: false},
      tooltip: {enabled: false},
      title: {display: false},
      modeNumbers: {level: 2.0e-5},
      plotTitle: {text: '12W Slave PMC Scan'}
    },
    scales: {
      x: {
        type: 'linear',
        min: -0.0497,
        max: 1.0426,
        offset: false,
        afterBuildTicks: s => { s.ticks = xTickValues.map(v => ({value: v})); },
        afterFit: s => { s.height = 67.4; },
        grid: {color: '#222', lineWidth: 1, drawTicks: false},
        border: {display: true, color: '#000', width: 1, dash: [4, 2, 1, 2]},
        ticks: {
          autoSkip: false, maxRotation: 0, padding: 10,
          font: {size: 21},
          callback: v => xTickLabels[xTickValues.indexOf(v)]
        },
        title: {display: true, text: 'Frequency [FSR]', font: {size: 21}, padding: {top: 0, bottom: 0}}
      },
      y: {
        type: 'logarithmic',
        min: 1e-5,
        max: 1,
        afterBuildTicks: s => { s.ticks = yTickValues.map(v => ({value: v})); },
        afterFit: s => { s.width = 107.7; },
        grid: {color: '#222', lineWidth: 1, drawTicks: false},
        border: {display: true, color: '#000', width: 1, dash: [4, 2, 1, 2]},
        ticks: {
          autoSkip: false, padding: 12,
          font: {size: 21},
          callback: v => yTickLabels[yTickValues.indexOf(v)]
        },
        title: {display: true, text: 'Normalized Intensity', font: {size: 21}, padding: {top: 7, bottom: 0}}
      }
    }
  },
  plugins: [frameTicks, modeNumbers, keyBox, plotTitle]
});
</script>
</body>
</html>
